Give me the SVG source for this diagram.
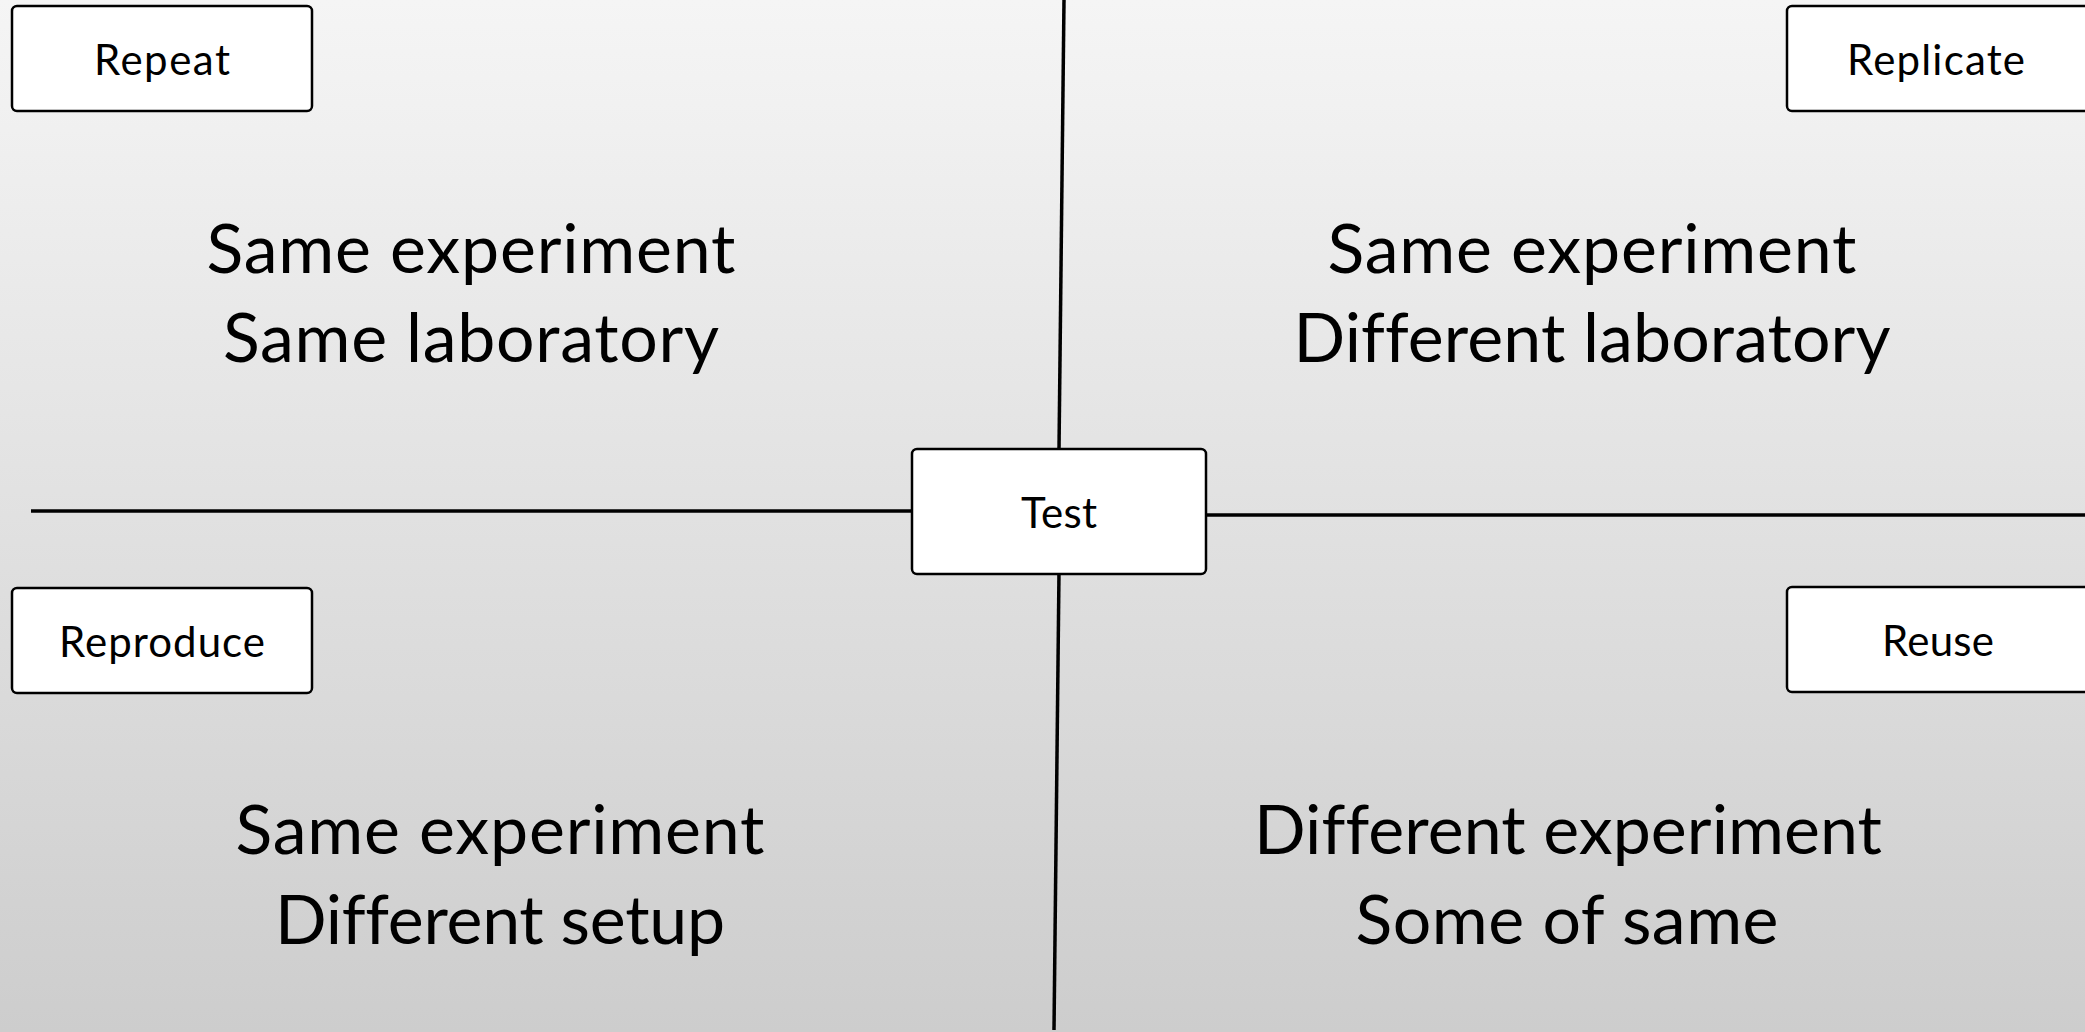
<svg xmlns="http://www.w3.org/2000/svg" width="2085" height="1032" viewBox="0 0 2085 1032">
<defs>
<linearGradient id="bg" x1="0" y1="0" x2="0" y2="1">
<stop offset="0" stop-color="#f5f5f5"/>
<stop offset="1" stop-color="#cdcdcd"/>
</linearGradient>
</defs>
<style>
.box{fill:#ffffff;stroke:#000000;stroke-width:2.5}
.lbl{font-family:Lato,"Open Sans",sans-serif;font-size:42px;fill:#000;text-anchor:middle;font-variant-ligatures:none}
.big{font-family:Lato,"Open Sans",sans-serif;font-size:68px;fill:#000;text-anchor:middle;font-variant-ligatures:none}
.ln{stroke:#000;stroke-width:3.5;fill:none}
</style>
<rect x="0" y="0" width="2085" height="1032" fill="url(#bg)"/>
<g id="connectors">
<line class="ln" x1="1064" y1="0" x2="1059" y2="449"/>
<line class="ln" x1="1059" y1="572" x2="1054" y2="1030"/>
<line class="ln" x1="31" y1="511" x2="912" y2="511"/>
<line class="ln" x1="1206" y1="515" x2="2085" y2="515"/>
</g>
<g id="repeat">
<rect class="box" x="12" y="6" width="300" height="105" rx="5"/>
<text class="lbl" x="162" y="75" textLength="136">Repeat</text>
</g>
<g id="replicate">
<rect class="box" x="1787" y="6" width="302" height="105" rx="5"/>
<text class="lbl" x="1936" y="75" textLength="178">Replicate</text>
</g>
<g id="test">
<rect class="box" x="912" y="449" width="294" height="125" rx="5"/>
<text class="lbl" x="1059" y="528" textLength="76">Test</text>
</g>
<g id="reproduce">
<rect class="box" x="12" y="588" width="300" height="105" rx="5"/>
<text class="lbl" x="162" y="657" textLength="206">Reproduce</text>
</g>
<g id="reuse">
<rect class="box" x="1787" y="587" width="302" height="105" rx="5"/>
<text class="lbl" x="1938" y="656" textLength="112">Reuse</text>
</g>
<g id="text-repeat">
<text class="big" x="471" y="273" textLength="529">Same experiment</text>
<text class="big" x="471" y="362" textLength="496">Same laboratory</text>
</g>
<g id="text-replicate">
<text class="big" x="1592" y="273" textLength="529">Same experiment</text>
<text class="big" x="1592" y="362" textLength="597">Different laboratory</text>
</g>
<g id="text-reproduce">
<text class="big" x="500" y="854" textLength="529">Same experiment</text>
<text class="big" x="500" y="944" textLength="450">Different setup</text>
</g>
<g id="text-reuse">
<text class="big" x="1568" y="854" textLength="628">Different experiment</text>
<text class="big" x="1567" y="944" textLength="423">Some of same</text>
</g>
</svg>
